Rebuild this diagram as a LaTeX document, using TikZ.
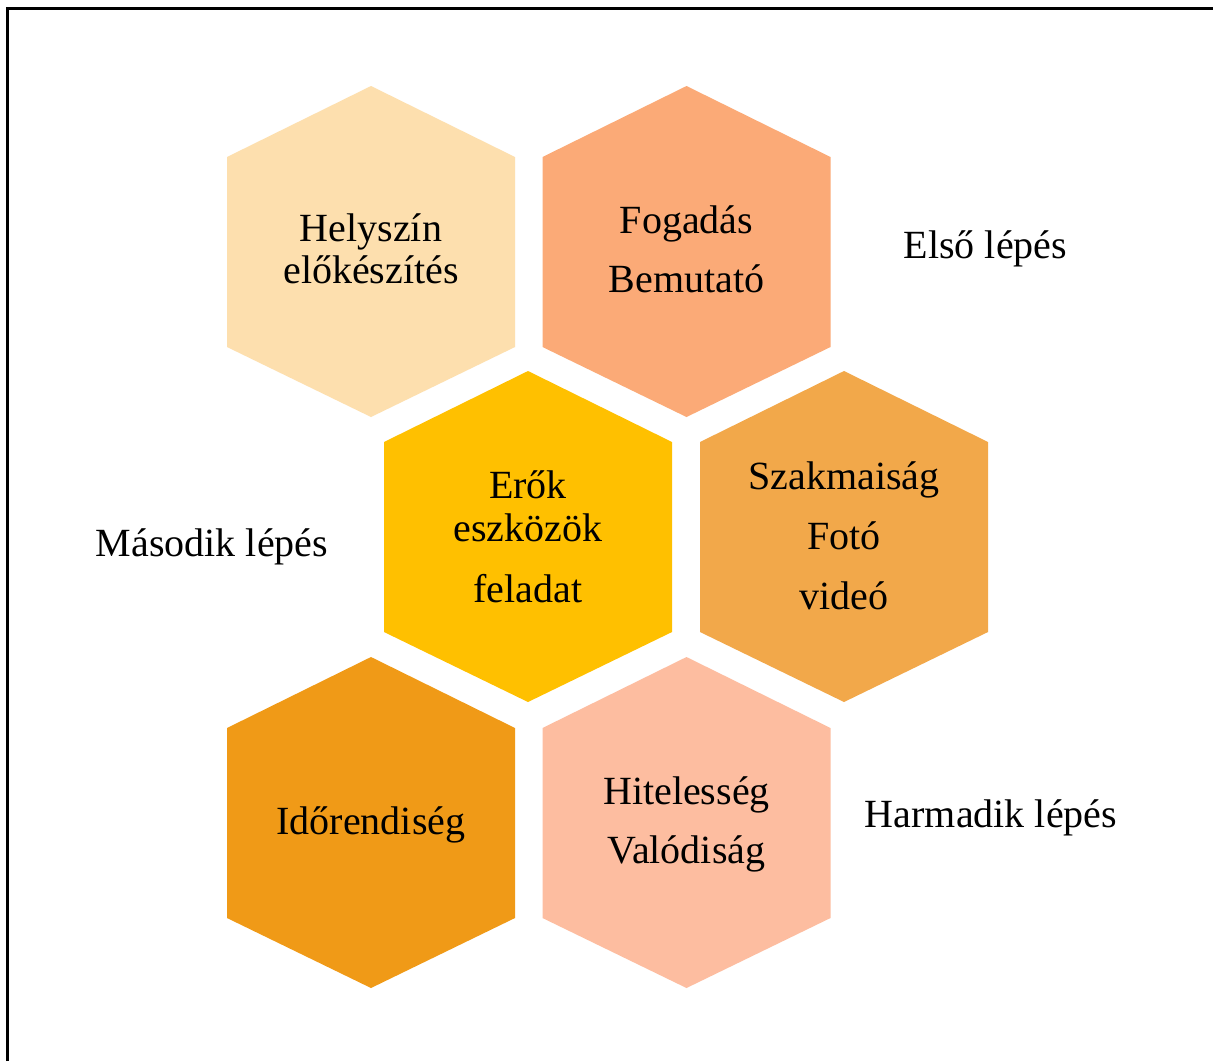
\documentclass[tikz,border=0pt]{standalone}
\usepackage{fontspec}
\setmainfont{Liberation Serif}
\definecolor{cA}{HTML}{FDDFAE}
\definecolor{cB}{HTML}{FBAA77}
\definecolor{cC}{HTML}{FFC000}
\definecolor{cD}{HTML}{F2A84A}
\definecolor{cE}{HTML}{F09A17}
\definecolor{cF}{HTML}{FDBDA0}
\tikzset{
  hexa/.pic={\fill[pic actions] (0,-165.5) -- (144,-94.5) -- (144,95.5) -- (0,165.5) -- (-144,95.5) -- (-144,-94.5) -- cycle;},
  lbl/.style={anchor=base, inner sep=0pt, font=\fontsize{20}{24}\selectfont},
  frame/.style={line width=1.5pt, black}
}
\begin{document}
\begin{tikzpicture}[x=0.5pt, y=-0.5pt]
\useasboundingbox (0,0) rectangle (1213,1061);
\fill[white] (0,0) rectangle (1213,1061);
\draw[frame] (7,1061) -- (7,8) -- (1213,8);
% hexagons
\pic[fill=cA] at (371,251.5) {hexa};
\pic[fill=cB] at (686.5,251.5) {hexa};
\pic[fill=cC] at (528,536.5) {hexa};
\pic[fill=cD] at (844,536.5) {hexa};
\pic[fill=cE] at (371,822.5) {hexa};
\pic[fill=cF] at (686.5,822.5) {hexa};
% texts
\node[lbl] (a1) at (371,241) {Helyszín};
\node[lbl] (a2) at (371,283) {előkészítés};
\node[lbl] (b1) at (686.5,233) {Fogadás};
\node[lbl] (b2) at (686.5,292) {Bemutató};
\node[lbl] (c1) at (528,498) {Erők};
\node[lbl] (c2) at (528,541) {eszközök};
\node[lbl] (c3) at (528,602) {feladat};
\node[lbl] (d1) at (844,489) {Szakmaiság};
\node[lbl] (d2) at (844,549) {Fotó};
\node[lbl] (d3) at (844,609) {videó};
\node[lbl] (e1) at (371,834) {Időrendiség};
\node[lbl] (f1) at (686.5,804) {Hitelesség};
\node[lbl] (f2) at (686.5,863) {Valódiság};
\node[lbl] (s1) at (985.5,258) {Első lépés};
\node[lbl] (s2) at (212,556) {Második lépés};
\node[lbl] (s3) at (991,827) {Harmadik lépés};
\end{tikzpicture}
\end{document}
